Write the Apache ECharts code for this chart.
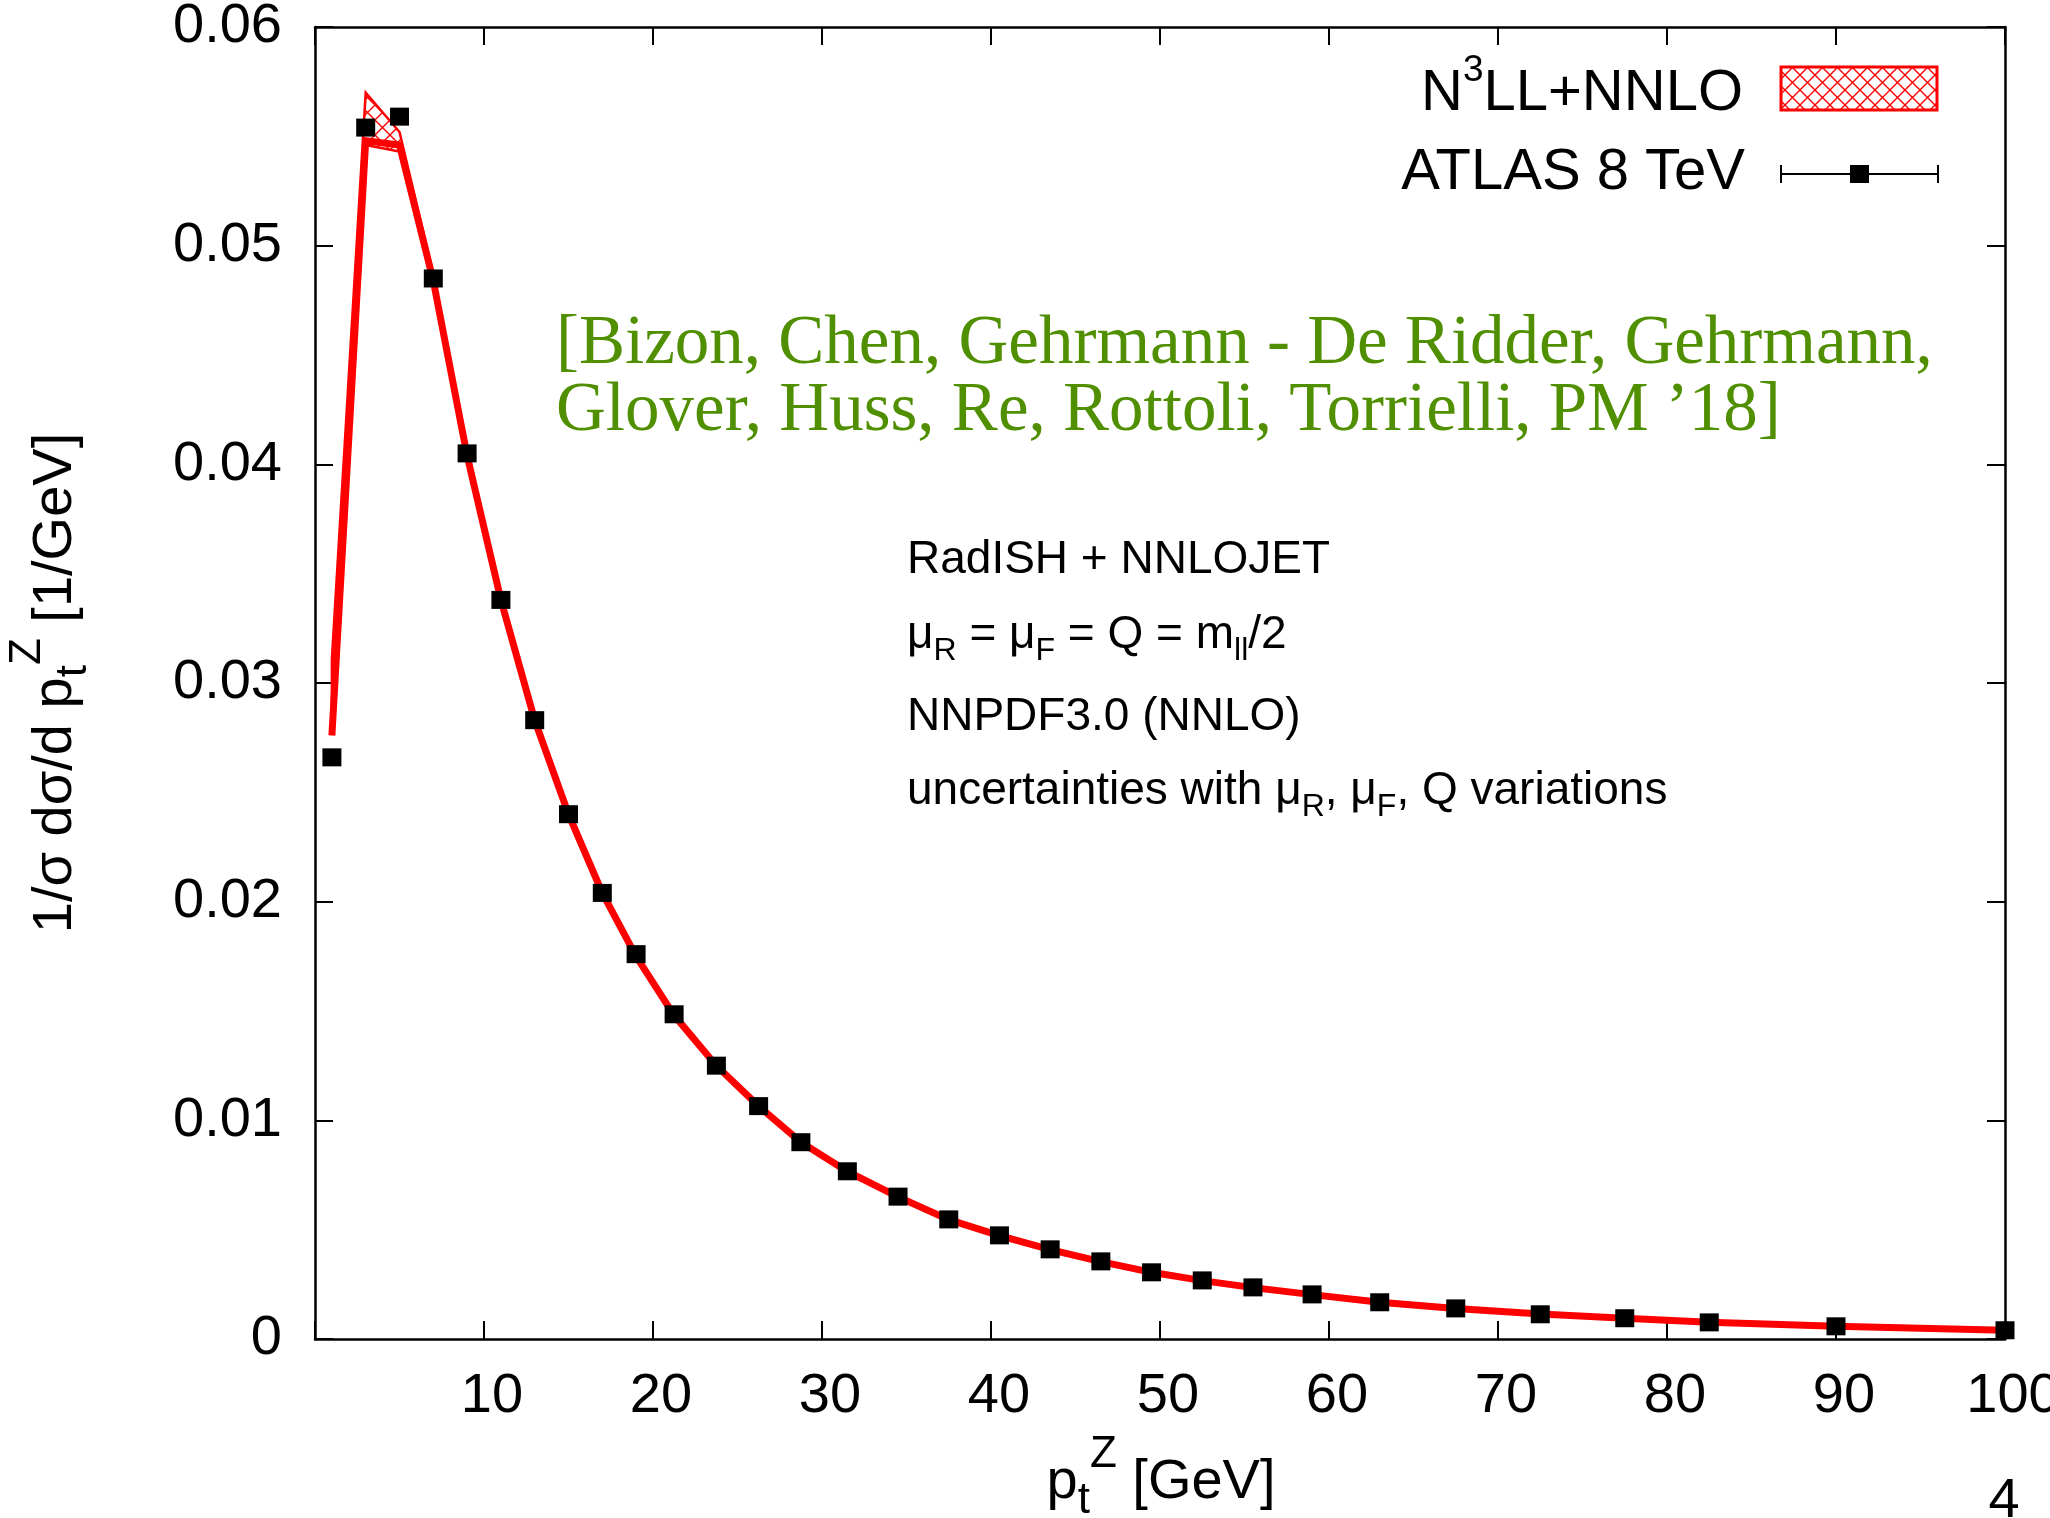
<!DOCTYPE html>
<html>
<head>
<meta charset="utf-8">
<script src="https://cdn.jsdelivr.net/npm/echarts@6/dist/echarts.min.js"></script>
<style>
html,body{margin:0;padding:0;background:#ffffff;}
#chart{width:2050px;height:1518px;}
</style>
</head>
<body>
<div id="chart"></div>
<script>
// ---------------- data ----------------
const ptBins = [1,3,5,7,9,11,13,15,17,19,21.25,23.75,26.25,28.75,31.5,34.5,37.5,40.5,43.5,46.5,49.5,52.5,55.5,59,63,67.5,72.5,77.5,82.5,90,100];
const atlasValues = [0.0266,0.0554,0.0559,0.0485,0.0405,0.0338,0.0283,0.0240,0.0204,0.0176,0.01485,0.0125,0.01065,0.0090,0.00767,0.00651,0.00547,0.00474,0.00410,0.00355,0.00305,0.00268,0.00236,0.00204,0.00168,0.00140,0.00113,0.00095,0.00076,0.00058,0.00040];
const theoryCentral = [0.0276,0.0548,0.0546,0.0484,0.0404,0.0338,0.0283,0.0240,0.0204,0.0175,0.0148,0.0125,0.01065,0.0090,0.00766,0.0065,0.00546,0.00473,0.00409,0.00354,0.00305,0.00267,0.00235,0.00203,0.00168,0.00140,0.00114,0.00095,0.00077,0.00058,0.00040];
const theoryLow = [0.0286,0.0546,0.0543,0.0481,0.0402,0.0336,0.0281,0.0238,0.0203,0.0174,0.0147,0.0124,0.0106,0.00895,0.00761,0.00646,0.00542,0.00470,0.00406,0.00351,0.00302,0.00265,0.00233,0.00201,0.00166,0.00138,0.00112,0.00093,0.00075,0.00056,0.00038];
const theoryHigh = [0.0311,0.0570,0.0552,0.0487,0.0406,0.0340,0.0285,0.0242,0.0205,0.0176,0.0149,0.0126,0.0107,0.00905,0.00771,0.00654,0.00550,0.00476,0.00412,0.00357,0.00308,0.00269,0.00237,0.00205,0.00170,0.00142,0.00116,0.00097,0.00079,0.00060,0.00042];
const xTickValues = [10,20,30,40,50,60,70,80,90,100];
const yTickLabels = ['0','0.01','0.02','0.03','0.04','0.05','0.06'];

// ---------------- styling helpers ----------------
const SANS = "'Liberation Sans', Arial, Helvetica, sans-serif";
const SERIF = "'Liberation Serif', 'Times New Roman', serif";
const RED = '#ff0000';

function makeHatch() {
  const c = document.createElement('canvas');
  c.width = 15; c.height = 15;
  const g = c.getContext('2d');
  g.strokeStyle = RED; g.lineWidth = 1.4;
  g.beginPath();
  g.moveTo(0, 0); g.lineTo(15, 15);
  g.moveTo(15, 0); g.lineTo(0, 15);
  g.stroke();
  return c;
}
const hatchCanvas = makeHatch();
const hatchFill = { image: hatchCanvas, repeat: 'repeat' };

// rich text with sub/superscripts; base = baseline position
function txt(o) {
  const F = o.F, fam = o.family || SANS, col = o.color || '#000';
  const rich = { n: { fontSize: F, fontFamily: fam, fill: col, color: col, lineHeight: F, height: F, verticalAlign: 'bottom' } };
  let s = '';
  o.parts.forEach((p, i) => {
    const t = p[0], kind = p[1] || 'n';
    if (kind === 'n') { s += '{n|' + t + '}'; return; }
    const Fs = p[2], off = p[3];
    const h = kind === 'sub' ? 0.3 * F + 0.7 * Fs - 2 * off : 0.3 * F + 0.7 * Fs + 2 * off;
    const name = 'k' + i;
    rich[name] = { fontSize: Fs, fontFamily: fam, fill: col, color: col, lineHeight: F, height: h, verticalAlign: 'bottom' };
    s += '{' + name + '|' + t + '}';
  });
  const el = { type: 'text', z: 100, silent: true,
    style: { text: s, rich: rich, align: o.align || 'left', verticalAlign: 'top', fill: col, fontSize: F, fontFamily: fam } };
  if (o.rotation) { el.rotation = o.rotation; el.x = o.base - 0.85 * F; el.y = o.x; }
  else { el.x = o.x; el.y = o.base - 0.85 * F; }
  return el;
}

const axisLineStyle = { color: '#000', width: 2.5 };
const tickStyle = { show: true, inside: true, length: 18, lineStyle: { color: '#000', width: 2 } };

const chart = echarts.init(document.getElementById('chart'), null, { renderer: 'canvas' });

const graphics = [
  // legend
  txt({ x: 1743, base: 114, align: 'right', F: 58, parts: [['N'], ['3', 'sup', 37, 30], ['LL+NNLO']] }),
  { type: 'rect', z: 100, shape: { x: 1781, y: 67, width: 156, height: 43 }, style: { fill: hatchFill, stroke: RED, lineWidth: 3 } },
  txt({ x: 1745, base: 193, align: 'right', F: 58, parts: [['ATLAS 8 TeV']] }),
  { type: 'line', z: 100, shape: { x1: 1781, y1: 174, x2: 1938, y2: 174 }, style: { stroke: '#000', lineWidth: 2 } },
  { type: 'line', z: 100, shape: { x1: 1781, y1: 165, x2: 1781, y2: 183 }, style: { stroke: '#000', lineWidth: 2 } },
  { type: 'line', z: 100, shape: { x1: 1938, y1: 165, x2: 1938, y2: 183 }, style: { stroke: '#000', lineWidth: 2 } },
  { type: 'rect', z: 100, shape: { x: 1850, y: 165, width: 19, height: 18 }, style: { fill: '#000' } },
  // citation
  txt({ x: 556, base: 369, F: 69, family: SERIF, color: '#4f8f00', parts: [['[Bizon, Chen, Gehrmann - De Ridder, Gehrmann,']] }),
  txt({ x: 556, base: 436, F: 69, family: SERIF, color: '#4f8f00', parts: [['Glover, Huss, Re, Rottoli, Torrielli, PM \u201918]']] }),
  // annotations
  txt({ x: 907, base: 576, F: 46, parts: [['RadISH + NNLOJET']] }),
  txt({ x: 907, base: 651, F: 46, parts: [['\u03bc'], ['R', 'sub', 32, 11], [' = \u03bc'], ['F', 'sub', 32, 11], [' = Q = m'], ['ll', 'sub', 32, 11], ['/2']] }),
  txt({ x: 907, base: 733, F: 46, parts: [['NNPDF3.0 (NNLO)']] }),
  txt({ x: 907, base: 807, F: 46, parts: [['uncertainties with \u03bc'], ['R', 'sub', 32, 11], [', \u03bc'], ['F', 'sub', 32, 11], [', Q variations']] }),
  // axis titles
  txt({ x: 1161, base: 1502, align: 'center', F: 56, parts: [['p'], ['t', 'sub', 44, 14], ['Z', 'sup', 44, 32], [' [GeV]']] }),
  txt({ x: 683, base: 75, align: 'center', F: 56, rotation: Math.PI / 2, parts: [['1/\u03c3 d\u03c3/d p'], ['t', 'sub', 44, 14], ['Z', 'sup', 44, 32], [' [1/GeV]']] }),
  // page number
  txt({ x: 2004, base: 1521, align: 'center', F: 56, parts: [['4']] })
];

const option = {
  backgroundColor: '#ffffff',
  animation: false,
  grid: { left: 315, right: 45, top: 27, bottom: 179, show: false, containLabel: false, outerBoundsMode: 'none' },
  xAxis: [
    { type: 'value', min: 0, max: 100, interval: 10, position: 'bottom',
      axisLine: { show: true, onZero: false, lineStyle: axisLineStyle }, axisTick: tickStyle, splitLine: { show: false },
      axisLabel: { margin: 30, fontSize: 56, fontFamily: SANS, color: '#000', padding: [0, 0, 0, 16],
        formatter: v => (xTickValues.indexOf(v) >= 0 ? String(v) : '') } },
    { type: 'value', min: 0, max: 100, interval: 10, position: 'top',
      axisLine: { show: true, onZero: false, lineStyle: axisLineStyle }, axisTick: tickStyle, splitLine: { show: false },
      axisLabel: { show: false } }
  ],
  yAxis: [
    { type: 'value', min: 0, max: 0.06, interval: 0.01, position: 'left',
      axisLine: { show: true, onZero: false, lineStyle: axisLineStyle }, axisTick: tickStyle, splitLine: { show: false },
      axisLabel: { margin: 33, fontSize: 56, fontFamily: SANS, color: '#000',
        formatter: v => yTickLabels[Math.round(v / 0.01)] } },
    { type: 'value', min: 0, max: 0.06, interval: 0.01, position: 'right',
      axisLine: { show: true, onZero: false, lineStyle: axisLineStyle }, axisTick: tickStyle, splitLine: { show: false },
      axisLabel: { show: false } }
  ],
  series: [
    { type: 'custom', name: 'N3LL+NNLO band', xAxisIndex: 0, yAxisIndex: 0, z: 2,
      data: ptBins.map((x, i) => [x, theoryLow[i], theoryHigh[i]]),
      encode: { x: 0, y: [1, 2] },
      renderItem: function (params, api) {
        if (params.dataIndex !== 0) return null;
        const pts = [];
        for (let i = 0; i < ptBins.length; i++) pts.push(api.coord([ptBins[i], theoryHigh[i]]));
        for (let i = ptBins.length - 1; i >= 0; i--) pts.push(api.coord([ptBins[i], theoryLow[i]]));
        return { type: 'polygon', shape: { points: pts }, style: { fill: hatchFill, stroke: RED, lineWidth: 2.5, lineJoin: 'miter' } };
      } },
    { type: 'line', name: 'N3LL+NNLO', xAxisIndex: 0, yAxisIndex: 0, z: 3,
      data: ptBins.map((x, i) => [x, theoryCentral[i]]),
      symbol: 'none', smooth: false,
      lineStyle: { color: RED, width: 7, join: 'miter' } },
    { type: 'scatter', name: 'ATLAS 8 TeV', xAxisIndex: 0, yAxisIndex: 0, z: 5,
      data: ptBins.map((x, i) => [x, atlasValues[i]]),
      symbol: 'rect', symbolSize: [19, 18],
      itemStyle: { color: '#000', opacity: 1 } }
  ],
  graphic: graphics
};
chart.setOption(option);
</script>
</body>
</html>
